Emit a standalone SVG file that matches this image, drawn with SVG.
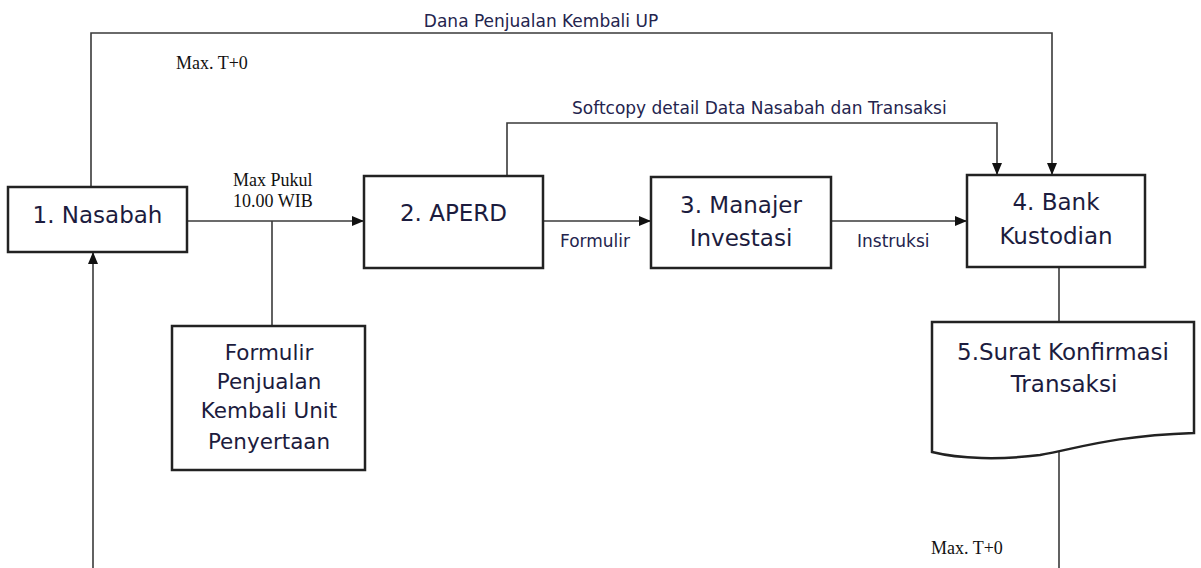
<svg xmlns="http://www.w3.org/2000/svg" width="1201" height="568" viewBox="0 0 1201 568">
<style>
.box{fill:#fff;stroke:#222;stroke-width:2.5}
.bt{font-family:"DejaVu Sans",sans-serif;font-size:23px;fill:#1c1c3e;text-anchor:middle}
.ft{font-family:"DejaVu Sans",sans-serif;font-size:21.5px;fill:#1c1c3e;text-anchor:middle}
.lb{font-family:"DejaVu Sans",sans-serif;font-size:17px;fill:#24244e}
.sr{font-family:"Liberation Serif",serif;font-size:18px;fill:#111}
.ln{fill:none;stroke:#3a3a3a;stroke-width:1.6}
</style>
<defs>
<marker id="ah" viewBox="0 0 12 10" refX="12" refY="5" markerWidth="12" markerHeight="10" markerUnits="userSpaceOnUse" orient="auto">
<path d="M0,0 L12,5 L0,10 Z" fill="#111"/>
</marker>
</defs>
<rect width="1201" height="568" fill="#fff"/>
<g id="connectors">
<path class="ln" d="M91,187 V33 H1052 V175" marker-end="url(#ah)"/>
<path class="ln" d="M507,175 V123 H997 V175" marker-end="url(#ah)"/>
<path class="ln" d="M187,221 H364" marker-end="url(#ah)"/>
<path class="ln" d="M272,221 V326"/>
<path class="ln" d="M543,221 H651" marker-end="url(#ah)"/>
<path class="ln" d="M831,221 H967" marker-end="url(#ah)"/>
<path class="ln" d="M1059,267 V322"/>
<path class="ln" d="M1059,452 V568"/>
<path class="ln" d="M93,568 V252" marker-end="url(#ah)"/>
</g>
<g id="labels">
<text class="lb" x="541" y="27" text-anchor="middle">Dana Penjualan Kembali UP</text>
<text class="lb" x="572" y="114">Softcopy detail Data Nasabah dan Transaksi</text>
<text class="lb" x="560" y="247">Formulir</text>
<text class="lb" x="857" y="247">Instruksi</text>
<text class="sr" x="176" y="69">Max. T+0</text>
<text class="sr" x="233" y="186">Max Pukul</text>
<text class="sr" x="233" y="207">10.00 WIB</text>
<text class="sr" x="931" y="554">Max. T+0</text>
</g>
<g id="nasabah">
<rect class="box" x="8" y="187" width="179" height="65"/>
<text class="bt" x="97.5" y="223">1. Nasabah</text>
</g>
<g id="aperd">
<rect class="box" x="364" y="176" width="179" height="92"/>
<text class="bt" x="453.5" y="221">2. APERD</text>
</g>
<g id="manajer">
<rect class="box" x="651" y="177" width="180" height="91"/>
<text class="bt" x="741" y="213">3. Manajer</text>
<text class="bt" x="741" y="246">Investasi</text>
</g>
<g id="bank">
<rect class="box" x="967" y="175" width="178" height="92"/>
<text class="bt" x="1056" y="210">4. Bank</text>
<text class="bt" x="1056" y="244">Kustodian</text>
</g>
<g id="formulir">
<rect class="box" x="172" y="326" width="193" height="144"/>
<text class="ft" x="269" y="360">Formulir</text>
<text class="ft" x="269" y="389">Penjualan</text>
<text class="ft" x="269" y="418">Kembali Unit</text>
<text class="ft" x="269" y="449">Penyertaan</text>
</g>
<g id="surat">
<path class="box" d="M932,322 H1194 V433 C1110,436 1080,448 1040,455 C1000,460 960,459 932,452 Z"/>
<text class="bt" x="1063" y="360">5.Surat Konfirmasi</text>
<text class="bt" x="1064" y="392">Transaksi</text>
</g>
</svg>
